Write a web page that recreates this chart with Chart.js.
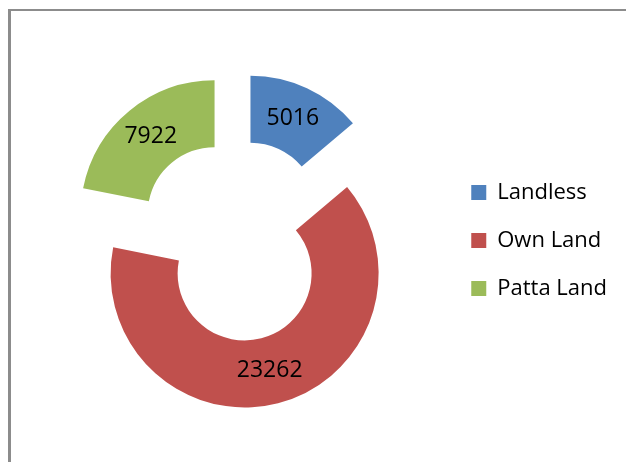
<!DOCTYPE html>
<html>
<head>
<meta charset="utf-8">
<script src="https://cdn.jsdelivr.net/npm/chart.js@4/dist/chart.umd.min.js"></script>
<style>
  html, body { margin: 0; padding: 0; background: #fff; }
  #wrap { position: relative; width: 626px; height: 462px; overflow: hidden; }
  #frame { position: absolute; left: 8px; top: 9px; width: 700px; height: 600px;
           border-left: 3px solid #8c8c8c; border-top: 2px solid #8c8c8c; }
  canvas { position: absolute; left: 0; top: 0; }
</style>
</head>
<body>
<div id="wrap">
  <div id="frame"></div>
  <canvas id="c" width="626" height="462"></canvas>
</div>
<script>
const categories = ['Landless', 'Own Land', 'Patta Land'];
const values = [5016, 23262, 7922];
const colors = ['#4F81BD', '#C0504D', '#9BBB59'];

const EXPLODE = 34;   // px each slice is pulled out from the centre

function midAngle(arc) {
  const p = arc.getProps(['startAngle', 'endAngle'], true);
  return (p.startAngle + p.endAngle) / 2;
}

// draw each arc (with the library's ArcElement.draw) pulled out along its mid angle
const explode = {
  id: 'explode',
  beforeDatasetsDraw(chart) {
    const ctx = chart.ctx;
    const meta = chart.getDatasetMeta(0);
    meta.data.forEach(arc => {
      const a = midAngle(arc);
      ctx.save();
      ctx.translate(Math.cos(a) * EXPLODE, Math.sin(a) * EXPLODE);
      arc.draw(ctx, chart.chartArea);
      ctx.restore();
    });
    return false;
  },
  afterDraw(chart) {
    const ctx = chart.ctx;
    const meta = chart.getDatasetMeta(0);
    ctx.save();
    ctx.font = '23px "Open Sans"';
    ctx.fillStyle = '#000';
    ctx.textAlign = 'center';
    ctx.textBaseline = 'middle';
    meta.data.forEach((arc, i) => {
      const p = arc.getProps(['x', 'y', 'innerRadius', 'outerRadius'], true);
      const a = midAngle(arc);
      const r = (p.innerRadius + p.outerRadius) / 2 + EXPLODE;
      ctx.fillText(String(values[i]), p.x + Math.cos(a) * r, p.y + Math.sin(a) * r);
    });
    ctx.restore();
  }
};

new Chart(document.getElementById('c'), {
  type: 'doughnut',
  data: {
    labels: categories,
    datasets: [{
      data: values,
      backgroundColor: colors,
      borderWidth: 0,
      offset: 0,
      hoverOffset: 0
    }]
  },
  options: {
    responsive: false,
    animation: false,
    radius: 134,
    cutout: '50%',
    layout: { padding: { left: 27, right: 9, top: 20, bottom: 1 } },
    plugins: {
      tooltip: { enabled: false },
      legend: {
        position: 'right',
        labels: {
          boxWidth: 15,
          boxHeight: 15,
          padding: 26,
          color: '#000',
          font: { family: '"Open Sans"', size: 22 }
        }
      }
    }
  },
  plugins: [explode]
});
</script>
</body>
</html>
